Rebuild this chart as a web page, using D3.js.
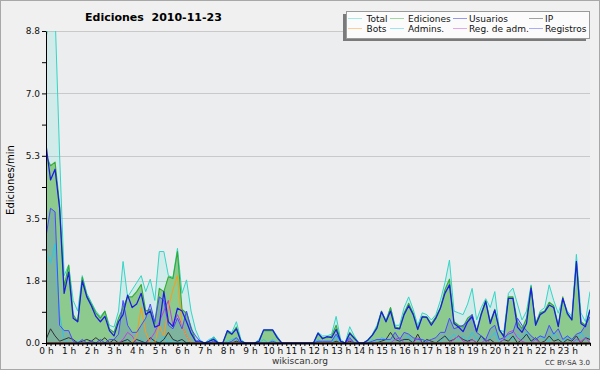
<!DOCTYPE html>
<html>
<head>
<meta charset="utf-8">
<script src="https://cdn.jsdelivr.net/npm/d3@7"></script>
<style>
  body { margin: 0; background: #fff; }
  svg { display: block; font-family: "DejaVu Sans", sans-serif; }
</style>
</head>
<body>
<div id="chart"></div>
<script>
// one value every 12 minutes, 0h .. 24h (121 points), edits per minute
const stepHours = 0.2;

const total = [
  8.6, 9.3, 9.3, 5.3, 1.9,   2.2, 1.2, 0.9, 1.9, 1.4,   1.15, 0.9, 0.75, 0.9, 0.5,
  0.45, 0.9, 2.3, 1.3, 1.5,  1.7, 1.9, 1.45, 1.8, 1.2,  2.58, 2.58, 1.9, 1.85, 2.67,
  1.4, 1.78, 0.9, 0.37, 0.08, 0, 0.05, 0.18, 0.02, 0,   0.35, 0.3, 0.6, 0.1, 0,
  0, 0, 0.1, 0.37, 0.37,     0.37, 0.2, 0, 0, 0,       0, 0, 0, 0, 0,
  0.3, 0.2, 0.2, 0.25, 0.75, 0.1, 0, 0.46, 0.2, 0,     0, 0.1, 0.25, 0.5, 0.9,
  0.65, 1.0, 0.5, 0.5, 1.0,  1.3, 0.95, 0.5, 0.85, 0.8, 0.65, 0.8, 1.2, 1.7, 2.34,
  0.9, 0.85, 0.8, 1.1, 1.54, 0.65, 1.0, 1.25, 1.0, 1.45, 0.37, 0.32, 1.4, 1.55, 1.1,
  0.65, 0.9, 1.64, 0.5, 0.9, 1.0, 1.64, 1.2, 0.84, 1.26, 0.9, 0.75, 2.5, 0.85, 0.6,
  1.45
];
const ediciones = [
  5.3, 5.0, 5.1, 3.9, 1.6,   2.2, 0.8, 0.6, 1.85, 1.35, 1.1, 0.85, 0.7, 0.9, 0.4,
  0.3, 0.7, 1.0, 1.3, 1.3,   1.45, 1.65, 0.9, 0.95, 0.55, 1.54, 1.45, 1.87, 1.82, 2.58,
  0.95, 0.84, 0.45, 0.05, 0, 0, 0.05, 0.15, 0, 0,      0.3, 0.25, 0.45, 0.05, 0,
  0, 0, 0.05, 0.35, 0.35,    0.35, 0.15, 0, 0, 0,      0, 0, 0, 0, 0,
  0.25, 0.15, 0.15, 0.2, 0.5, 0.05, 0, 0.3, 0.15, 0,   0, 0.08, 0.22, 0.45, 0.9,
  0.6, 1.0, 0.45, 0.42, 0.85, 1.12, 0.84, 0.41, 0.75, 0.74, 0.55, 0.74, 1.0, 1.5, 1.8,
  0.6, 0.5, 0.45, 0.7, 0.8,  0.35, 0.85, 1.2, 0.6, 0.95, 0.37, 0.2, 1.3, 1.3, 0.6,
  0.4, 0.7, 1.6, 0.55, 0.85, 0.9, 1.15, 1.05, 0.5, 1.3, 0.8, 0.65, 2.3, 0.6, 0.5,
  0.95
];
const usuarios = [
  5.6, 4.6, 4.9, 3.8, 1.4,   2.0, 0.7, 0.6, 1.75, 1.3,  1.05, 0.75, 0.6, 0.75, 0.35,
  0.2, 0.6, 0.8, 1.35, 1.0,  1.1, 1.4, 0.8, 0.9, 0.45,  0.5, 1.45, 0.6, 0.46, 0.98,
  0.9, 0.6, 0.27, 0.05, 0.05, 0, 0.05, 0.1, 0, 0,      0.35, 0.25, 0.4, 0.05, 0,
  0, 0, 0.05, 0.37, 0.37,    0.37, 0.15, 0, 0, 0,      0, 0, 0, 0, 0,
  0.28, 0.12, 0.18, 0.15, 0.38, 0.05, 0, 0.27, 0.13, 0, 0, 0.08, 0.22, 0.42, 0.88,
  0.6, 0.9, 0.42, 0.4, 0.8,  1.05, 0.8, 0.38, 0.74, 0.72, 0.5, 0.7, 0.98, 1.4, 1.64,
  0.55, 0.45, 0.32, 0.6, 0.74, 0.32, 0.8, 1.17, 0.55, 0.93, 0.37, 0.18, 1.26, 1.26, 0.45,
  0.3, 0.55, 1.55, 0.5, 0.8, 0.88, 1.07, 1.0, 0.46, 1.26, 0.84, 0.65, 2.3, 0.55, 0.46,
  0.93
];
const ip = [
  0.1, 0.4, 0.2, 0.05, 0.1,  0.15, 0.1, 0, 0.05, 0.1,   0.05, 0.15, 0.05, 0.15, 0,
  0.1, 0, 0.05, 0.1, 0,      0.1, 0.05, 0, 0.15, 0.05,  0, 0.1, 0.3, 0.1, 0.05,
  0.1, 0, 0, 0, 0,           0, 0, 0, 0, 0,             0, 0, 0.05, 0, 0,
  0, 0, 0, 0, 0,             0, 0, 0, 0, 0,             0, 0, 0, 0, 0,
  0, 0, 0, 0, 0.05,          0, 0, 0.05, 0, 0,          0, 0, 0, 0, 0.05,
  0.1, 0.3, 0.1, 0.05, 0.1,  0.1, 0, 0.25, 0, 0.1,      0.05, 0, 0.1, 0.2, 0.05,
  0.1, 0.2, 0.1, 0.05, 0.1,  0, 0.2, 0.05, 0.1, 0,      0, 0.1, 0.05, 0.2, 0,
  0.1, 0.25, 0.05, 0.15, 0,  0.05, 0.2, 0.05, 0.1, 0,   0.1, 0.05, 0.2, 0, 0.15,
  0.1
];
const bots = [
  0, 0, 0, 0, 0,             0, 0, 0, 0, 0,             0, 0, 0, 0, 0,
  0, 0, 0, 0, 0,             0.2, 1.0, 0.3, 0, 0,       0.5, 0.2, 1.0, 1.5, 1.9,
  0.5, 0.2, 0, 0, 0,         0, 0, 0, 0, 0,             0, 0, 0, 0, 0,
  0, 0, 0, 0, 0,             0, 0, 0, 0, 0,             0, 0, 0, 0, 0,
  0, 0, 0, 0, 0,             0, 0, 0, 0, 0,             0, 0, 0, 0, 0,
  0, 0, 0, 0, 0,             0, 0, 0, 0, 0,             0, 0, 0, 0, 0,
  0, 0, 0, 0, 0,             0, 0, 0, 0, 0,             0, 0, 0, 0, 0,
  0, 0, 0, 0, 0,             0, 0, 0, 0, 0,             0, 0, 0, 0, 0,
  0
];
const admins = [
  2.6, 2.25, 2.8, 0.8, 0.1,  0, 0, 0.05, 0, 0,          0, 0, 0, 0, 0,
  0, 0, 0, 0.1, 0,           0, 0.1, 0, 0, 0.15,        0, 0.2, 0, 0.1, 0,
  0.1, 0, 0, 0, 0,           0, 0.1, 0.15, 0, 0,        0.05, 0.1, 0.15, 0, 0,
  0, 0, 0, 0.1, 0,           0.1, 0, 0, 0, 0,           0, 0, 0, 0, 0,
  0.1, 0, 0.05, 0, 0.2,      0, 0, 0.15, 0, 0,          0, 0, 0.1, 0, 0.15,
  0.1, 0, 0.15, 0, 0.1,      0.2, 0, 0, 0.1, 0,         0, 0, 0.05, 0.2, 0.1,
  0.25, 0.1, 0.2, 0.05, 0.3, 0.1, 0.2, 0, 0.15, 0.3,    0, 0.1, 0.2, 0.1, 0.25,
  0.1, 0.3, 0.05, 0.1, 0.2,  0.1, 0.05, 0.3, 0.1, 0,    0.2, 0.1, 0.05, 0.3, 0.1,
  0.2
];
const regAdm = [
  0, 0, 0, 0, 0,             0, 0, 0, 0, 0,             0, 0, 0, 0, 0,
  0, 0, 0.1, 0.3, 0.2,       0, 0, 0, 0.1, 0.3,         0.6, 0.9, 1.2, 0.5, 0.8,
  0.5, 0.2, 0, 0, 0,         0, 0, 0, 0, 0,             0, 0, 0, 0, 0,
  0, 0, 0, 0, 0,             0, 0, 0, 0, 0,             0, 0, 0, 0, 0,
  0, 0, 0, 0, 0,             0, 0, 0.1, 0, 0,           0, 0, 0, 0, 0,
  0, 0, 0.1, 0.15, 0,        0, 0, 0.15, 0, 0,          0, 0, 0, 0, 0,
  0.1, 0.2, 0.05, 0, 0.1,    0, 0, 0.1, 0, 0,           0, 0.1, 0.3, 0.35, 0.15,
  0.05, 0, 0, 0.1, 0,        0, 0, 0, 0, 0,             0, 0, 0.1, 0.05, 0.15,
  0
];
const registros = [
  3.0, 3.8, 3.7, 0.5, 0.35,  0.35, 0.05, 0, 0.1, 0,     0.05, 0, 0.1, 0, 0.1,
  0.1, 0.25, 1.2, 0.5, 0.3,  0.3, 0.5, 0.7, 1.1, 0.6,   1.3, 1.2, 0.5, 0.4, 0.7,
  0.4, 0.9, 0.4, 0.2, 0.05,  0, 0, 0.05, 0, 0,          0, 0.05, 0.15, 0, 0,
  0, 0, 0, 0, 0,             0.05, 0, 0, 0, 0,          0, 0, 0, 0, 0,
  0.05, 0.05, 0.05, 0.05, 0.25, 0.05, 0, 0.15, 0, 0,    0, 0, 0.05, 0.1, 0.1,
  0.1, 0.1, 0.3, 0.1, 0.3,   0.25, 0.15, 0.1, 0.1, 0.05, 0.1, 0.15, 0.3, 0.3, 0.7,
  0.4, 0.45, 0.5, 0.6, 0.8,  0.3, 0.2, 0.1, 0.4, 0.5,   0.1, 0.15, 0.25, 0.3, 0.7,
  0.5, 0.35, 0.2, 0.1, 0.2,  0.15, 0.5, 0.25, 0.4, 0.1, 0.2, 0.1, 0.25, 0.3, 0.5,
  0.74
];

const yTickValues = [0, 0.88, 1.76, 2.64, 3.52, 4.4, 5.28, 6.16, 7.04, 7.92, 8.8];
const legendItems = [
  { label: "Total", color: "#33d6c6" },
  { label: "Ediciones", color: "#33aa33" },
  { label: "Usuarios", color: "#1c1ce0" },
  { label: "IP", color: "#333333" },
  { label: "Bots", color: "#ff9a1a" },
  { label: "Admins.", color: "#2ec8e6" },
  { label: "Reg. de adm.", color: "#c040e0" },
  { label: "Registros", color: "#4a4aff" },
];
const colorOf = (name) => legendItems.find((d) => d.label === name).color;

function draw() {
  const dimensions = {
    width: 600,
    height: 370,
    margin: { top: 31, bottom: 27, left: 46, right: 10 },
  };
  const plotW = dimensions.width - dimensions.margin.left - dimensions.margin.right;
  const plotH = dimensions.height - dimensions.margin.top - dimensions.margin.bottom;

  const svg = d3
    .select("#chart")
    .append("svg")
    .attr("width", dimensions.width)
    .attr("height", dimensions.height);

  // background + border
  svg.append("rect")
    .attr("x", 0.5).attr("y", 0.5)
    .attr("width", dimensions.width - 1).attr("height", dimensions.height - 1)
    .attr("fill", "#f0f0f0").attr("stroke", "#a8a8a8");

  const ctr = svg.append("g")
    .attr("transform", `translate(${dimensions.margin.left}, ${dimensions.margin.top})`);

  ctr.append("rect")
    .attr("width", plotW).attr("height", plotH)
    .attr("fill", "#ecedef");

  svg.append("defs").append("clipPath").attr("id", "plotclip")
    .append("rect").attr("width", plotW).attr("height", plotH);

  const xScale = d3.scaleLinear().domain([0, 24]).range([0, plotW]);
  const yScale = d3.scaleLinear().domain([0, 8.8]).range([plotH, 0]);

  // gridlines on labelled ticks
  ctr.append("g")
    .selectAll("line")
    .data(yTickValues.filter((d, i) => i % 2 === 0 && i > 0))
    .join("line")
    .attr("x1", 0).attr("x2", plotW)
    .attr("y1", (d) => Math.round(yScale(d)) + 0.5)
    .attr("y2", (d) => Math.round(yScale(d)) + 0.5)
    .attr("stroke", "#c9c9c9");

  const xAt = (d, i) => xScale(i * stepHours);
  const area = d3.area().x(xAt).y0(yScale(0)).y1((d) => yScale(d));
  const line = d3.line().x(xAt).y((d) => yScale(d));

  const plot = ctr.append("g").attr("clip-path", "url(#plotclip)");

  // filled areas
  plot.append("path").attr("d", area(total))
    .attr("fill", "#40e0d0").attr("fill-opacity", 0.16);
  plot.append("path").attr("d", area(ediciones))
    .attr("fill", "#86c786").attr("fill-opacity", 0.92);
  plot.append("path").attr("d", area(registros))
    .attr("fill", "#3030ff").attr("fill-opacity", 0.15);

  // lines
  const lines = [
    { name: "Total", values: total, w: 1 },
    { name: "Ediciones", values: ediciones, w: 1.1 },
    { name: "Admins.", values: admins, w: 1 },
    { name: "IP", values: ip, w: 1 },
    { name: "Reg. de adm.", values: regAdm, w: 1 },
    { name: "Bots", values: bots, w: 1 },
    { name: "Registros", values: registros, w: 1 },
    { name: "Usuarios", values: usuarios, w: 1.25 },
  ];
  plot.selectAll("path.series")
    .data(lines)
    .join("path")
    .classed("series", true)
    .attr("d", (d) => line(d.values))
    .attr("fill", "none")
    .attr("stroke", (d) => colorOf(d.name))
    .attr("stroke-width", (d) => d.w)
    .attr("stroke-linejoin", "round");

  // axes
  const xAxis = d3.axisBottom(xScale)
    .tickValues(d3.range(0, 121).map((i) => i / 5))
    .tickSize(3)
    .tickSizeOuter(0)
    .tickPadding(2)
    .tickFormat((d) => (Number.isInteger(d) && d < 24 ? `${d} h` : ""));
  const xAxisGroup = ctr.append("g")
    .attr("transform", `translate(0, ${plotH})`)
    .call(xAxis);
  xAxisGroup.select(".domain").attr("stroke-width", 2);

  const yAxis = d3.axisLeft(yScale)
    .tickValues(yTickValues)
    .tickSize(4)
    .tickSizeOuter(0)
    .tickPadding(2)
    .tickFormat((d, i) => (i % 2 === 0 ? d3.format(".1f")(d) : ""));
  const yAxisGroup = ctr.append("g").call(yAxis);

  [xAxisGroup, yAxisGroup].forEach((g) => {
    g.selectAll("text").attr("font-size", 9).attr("font-family", "DejaVu Sans").attr("fill", "#111");
    g.selectAll("line, path").attr("stroke", "#000");
  });

  // title
  svg.append("text")
    .attr("x", 85).attr("y", 21)
    .attr("font-size", 11).attr("font-weight", "bold")
    .style("white-space", "pre")
    .text("Ediciones  2010-11-23");

  // y label
  svg.append("text")
    .attr("transform", "translate(14, 180) rotate(-90)")
    .attr("text-anchor", "middle")
    .attr("font-size", 10)
    .text("Ediciones/min");

  // footer
  svg.append("text")
    .attr("x", 300).attr("y", 364)
    .attr("text-anchor", "middle").attr("font-size", 9).attr("fill", "#333")
    .text("wikiscan.org");
  svg.append("text")
    .attr("x", 590).attr("y", 365)
    .attr("text-anchor", "end").attr("font-size", 7).attr("fill", "#333")
    .text("CC BY-SA 3.0");

  // legend
  const legend = svg.append("g");
  legend.append("rect")
    .attr("x", 343).attr("y", 14).attr("width", 243).attr("height", 27)
    .attr("fill", "#7a7a7a");
  legend.append("rect")
    .attr("x", 346.5).attr("y", 11.5).attr("width", 243).attr("height", 27)
    .attr("fill", "#fbfbfb").attr("stroke", "#9a9a9a");

  const colX = [348, 390, 453, 529];
  const rowY = [18.5, 28.5];
  const entry = legend.selectAll("g.entry")
    .data(legendItems)
    .join("g")
    .attr("transform", (d, i) => `translate(${colX[i % 4]}, ${rowY[Math.floor(i / 4)]})`);
  entry.append("line")
    .attr("x1", 0).attr("x2", 14)
    .attr("stroke", (d) => d.color)
    .attr("stroke-opacity", 0.45);
  entry.append("text")
    .attr("x", (d, i) => [18.5, 18, 16, 16][i % 4])
    .attr("y", 3.5)
    .attr("font-size", 9)
    .attr("fill", "#111")
    .text((d) => d.label);
}

draw();
</script>
</body>
</html>
